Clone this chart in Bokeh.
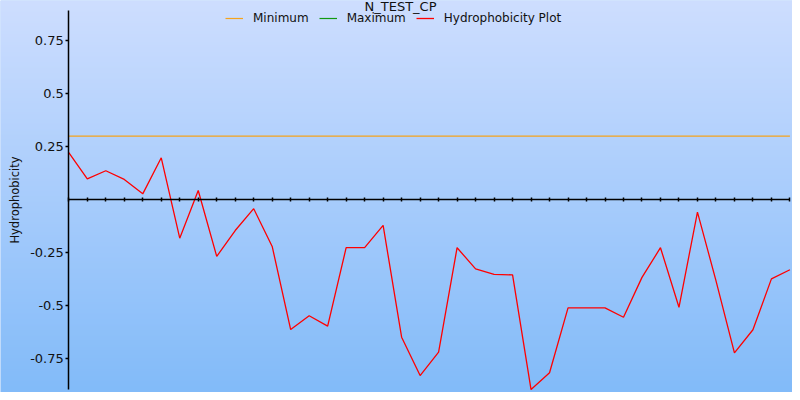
import numpy as np
from bokeh.plotting import figure
from bokeh.models import (Range1d, FixedTicker, Legend, LegendItem, Label)
from bokeh.embed import file_html
from bokeh.resources import INLINE

chart_title = "N_TEST_CP"
y_label = "Hydrophobicity"

residues = list(range(1, 41))
hydrophobicity = [0.222, 0.099, 0.137, 0.096, 0.028, 0.198, -0.181, 0.044, -0.267, -0.145,
                  -0.042, -0.220, -0.612, -0.547, -0.596, -0.226, -0.226, -0.121, -0.648, -0.829,
                  -0.719, -0.226, -0.326, -0.352, -0.354, -0.895, -0.816, -0.510, -0.510, -0.510,
                  -0.554, -0.366, -0.226, -0.507, -0.058, -0.381, -0.722, -0.613, -0.373, -0.330]
minimum_level = [0.3, 0.3]
minimum_x = [1, 40]
maximum_level = [float("nan"), float("nan")]
maximum_x = [1, 40]

y_ticks = [-0.75, -0.5, -0.25, 0.25, 0.5, 0.75]
y_tick_labels = ["-0.75", "-0.5", "-0.25", "0.25", "0.5", "0.75"]

W, H = 792, 392
x0, x1 = -2.694, 40.14
y0, y1 = -0.909, 0.9401

p = figure(width=W, height=H, output_backend="svg", toolbar_location=None,
           x_range=Range1d(x0, x1), y_range=Range1d(y0, y1), title=None,
           min_border=0, min_border_left=0, min_border_right=0,
           min_border_top=0, min_border_bottom=0)
p.outline_line_color = None
p.xgrid.visible = False
p.ygrid.visible = False
p.background_fill_color = "#a8cbfc"
p.border_fill_color = "#a8cbfc"

# vertical gradient background
n = 392
top = np.array([206, 222, 255], dtype=float)
bot = np.array([130, 187, 249], dtype=float)
t = np.linspace(0, 1, n)[:, None]
cols = bot * (1 - t) + top * t
img = np.empty((n, 1), dtype=np.uint32)
view = img.view(dtype=np.uint8).reshape((n, 1, 4))
view[:, 0, 0] = cols[:, 0].astype(np.uint8)
view[:, 0, 1] = cols[:, 1].astype(np.uint8)
view[:, 0, 2] = cols[:, 2].astype(np.uint8)
view[:, 0, 3] = 255
p.image_rgba(image=[img], x=x0, y=y0, dw=x1 - x0, dh=y1 - y0, level="image")

r_min = p.line(minimum_x, minimum_level, line_color="#f5a31c", line_width=1.2)
r_max = p.line(maximum_x, maximum_level, line_color="#119911", line_width=1.2)
r_hyd = p.line(residues, hydrophobicity, line_color="#ff0000", line_width=1.3)

# axes
ax = p.xaxis[0]
ax.fixed_location = 0
ax.bounds = (residues[0], residues[-1])
ax.ticker = FixedTicker(ticks=residues)
ax.major_label_overrides = {r: "" for r in residues}
ax.minor_tick_line_color = None
ax.major_tick_in = 2
ax.major_tick_out = 2
ax.axis_line_width = 1.5
ax.major_tick_line_width = 1.5
ax.axis_line_color = "black"
ax.major_tick_line_color = "black"

ay = p.yaxis[0]
ay.fixed_location = residues[0]
ay.bounds = (-0.895, 0.895)
ay.ticker = FixedTicker(ticks=y_ticks)
ay.major_label_overrides = {v: s for v, s in zip(y_ticks, y_tick_labels)}
ay.minor_tick_line_color = None
ay.major_tick_in = 0
ay.major_tick_out = 3
ay.major_label_standoff = 2
ay.major_label_text_font = "DejaVu Sans"
ay.major_label_text_font_size = "13px"
ay.major_label_text_color = "#111111"
ay.axis_line_width = 1.5
ay.major_tick_line_width = 1.5
ay.axis_line_color = "black"
ay.major_tick_line_color = "black"
ay.axis_label = y_label
ay.axis_label_text_font = "DejaVu Sans"
ay.axis_label_text_font_size = "11.5px"
ay.axis_label_text_font_style = "normal"
ay.axis_label_text_color = "#111111"
ay.axis_label_standoff = 5

title = Label(x=18.94, y=0.910, text=chart_title,
              text_align="center", text_baseline="alphabetic", text_font="DejaVu Sans",
              text_font_size="13px", text_color="#111111")
p.add_layout(title)

legend = Legend(items=[LegendItem(label="Minimum", renderers=[r_min]),
                       LegendItem(label="Maximum", renderers=[r_max]),
                       LegendItem(label="Hydrophobicity Plot", renderers=[r_hyd])],
                orientation="horizontal", location=(225, H - 8 - 20),
                background_fill_alpha=0, border_line_color=None,
                padding=0, margin=0, spacing=10, glyph_width=18, glyph_height=20,
                label_standoff=10, label_text_font="DejaVu Sans",
                label_text_font_size="12px", label_text_color="#111111")
p.add_layout(legend, "center")

open("out.html", "w").write(file_html(p, INLINE))
